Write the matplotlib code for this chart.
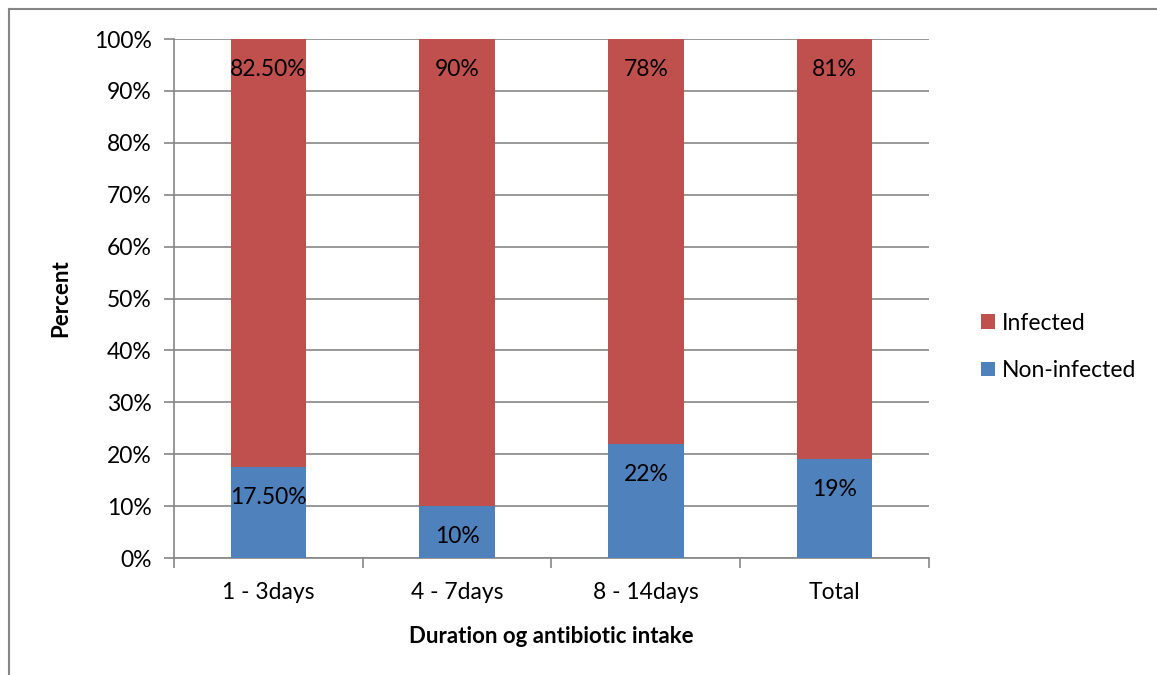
import matplotlib.pyplot as plt
import numpy as np
from matplotlib.lines import Line2D
from matplotlib.ticker import FixedLocator, PercentFormatter

plt.rcParams["font.family"] = ["Lato", "DejaVu Sans"]

categories = ["1 - 3days", "4 - 7days", "8 - 14days", "Total"]
non_infected = [17.5, 10, 22, 19]
infected = [82.5, 90, 78, 81]
non_infected_labels = ["17.50%", "10%", "22%", "19%"]
infected_labels = ["82.50%", "90%", "78%", "81%"]

RED = "#C0504D"
BLUE = "#4F81BD"
GRID = "#868686"
FS = 16.5

fig = plt.figure(figsize=(11.57, 6.75), dpi=100)
ax = fig.add_axes([0.1504, 0.1733, 0.6525, 0.7689])

x = np.arange(len(categories))
b1 = ax.bar(x, non_infected, width=0.4, color=BLUE, label="Non-infected", zorder=3)
b2 = ax.bar(x, infected, width=0.4, bottom=non_infected, color=RED,
            label="Infected", zorder=3)

# labels sit just inside the top of each segment (Excel "inside end")
for bars, labels in ((b1, non_infected_labels), (b2, infected_labels)):
    for bar, lab in zip(bars, labels):
        top = bar.get_y() + bar.get_height()
        ax.annotate(lab, (bar.get_x() + bar.get_width() / 2, top),
                    textcoords="offset points", xytext=(0, -22),
                    ha="center", va="center", fontsize=FS, zorder=4)

ax.set_xlim(-0.5, len(categories) - 0.5)
ax.set_ylim(0, 100)
ax.set_yticks(np.arange(0, 101, 10))
ax.yaxis.set_major_formatter(PercentFormatter(decimals=0))
ax.set_xticks(x)
ax.set_xticklabels(categories)
ax.xaxis.set_minor_locator(FixedLocator(np.arange(-0.5, len(categories), 1)))
ax.tick_params(axis="x", which="major", length=0, pad=17, labelsize=FS)
ax.tick_params(axis="x", which="minor", length=7, color=GRID, width=1.2)
ax.tick_params(axis="y", length=7, color=GRID, width=1.2, pad=9, labelsize=FS)

ax.grid(axis="y", color=GRID, linewidth=1.2, zorder=0)
for s in ("top", "right"):
    ax.spines[s].set_visible(False)
for s in ("left", "bottom"):
    ax.spines[s].set_color(GRID)
    ax.spines[s].set_linewidth(1.2)

ax.set_ylabel("Percent", fontsize=FS - 0.5, fontweight="bold", labelpad=16)
ax.set_xlabel("Duration og antibiotic intake", fontsize=FS - 0.5,
              fontweight="bold", labelpad=17)

fig.legend(handles=[b2, b1], loc="center left", bbox_to_anchor=(0.838, 0.486),
           frameon=False, fontsize=FS, handlelength=0.6, handleheight=0.6,
           handletextpad=0.3, labelspacing=1.15, borderpad=0)

# outer chart frame (only top and left edges visible)
fig.add_artist(Line2D([9 / 1157, 1], [1 - 9 / 675, 1 - 9 / 675],
                      color=GRID, linewidth=1.5, transform=fig.transFigure))
fig.add_artist(Line2D([9 / 1157, 9 / 1157], [0, 1 - 9 / 675],
                      color=GRID, linewidth=1.5, transform=fig.transFigure))

plt.savefig("out.png", dpi=100)
